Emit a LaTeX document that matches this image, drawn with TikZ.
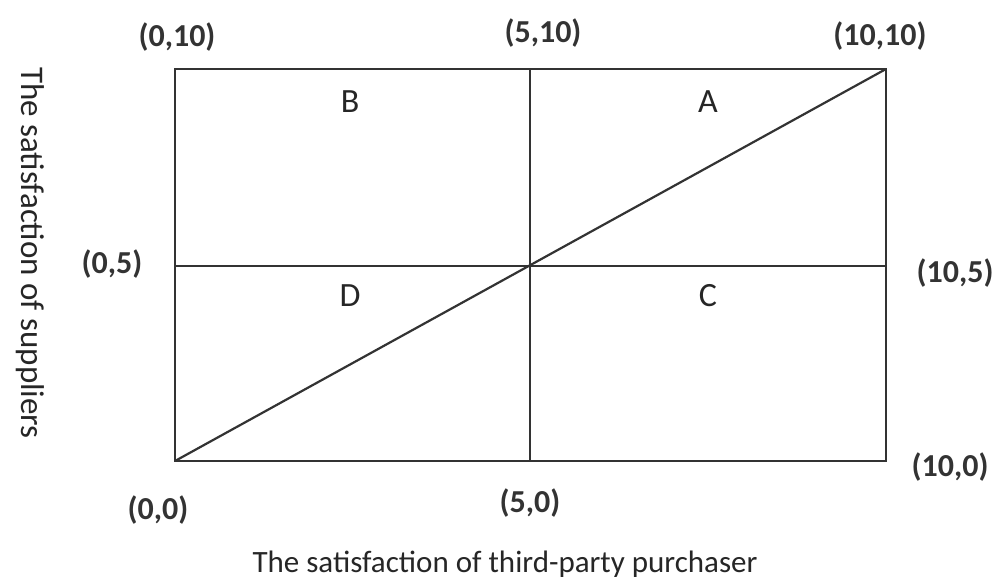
\documentclass[tikz,border=0pt]{standalone}
\usepackage{fontspec}
\setmainfont{Carlito}
\begin{document}
\begin{tikzpicture}[x=1pt,y=-1pt,
  frame/.style={line width=2.2pt,draw=black!80},
  coordlbl/.style={font=\fontsize{32}{34}\selectfont\bfseries,text=black!80,inner sep=0pt},
  quad/.style={font=\fontsize{34}{36}\selectfont,text=black!85,inner sep=0pt},
  axislbl/.style={font=\fontsize{31}{34}\selectfont,text=black!85,inner sep=0pt}]
\useasboundingbox (0,0) rectangle (1006,581);
\coordinate (p00) at (175,461);
\coordinate (p50) at (530,461);
\coordinate (p100) at (886,461);
\coordinate (p05) at (175,266);
\coordinate (p55) at (530,266);
\coordinate (p105) at (886,266);
\coordinate (p010) at (175,69);
\coordinate (p510) at (530,69);
\coordinate (p1010) at (886,69);
\draw[frame] (p00) rectangle (p1010);
\draw[frame] (p05) -- (p105);
\draw[frame] (p50) -- (p510);
\draw[frame] (p00) -- (p1010);
\node[quad] (B) at (350,102) {B};
\node[quad] (A) at (708,102) {A};
\node[quad] (D) at (350,296) {D};
\node[quad] (C) at (708,296) {C};
\node[coordlbl] (l010) at (177,37) {(0,10)};
\node[coordlbl] (l510) at (543,33) {(5,10)};
\node[coordlbl] (l1010) at (880,36) {(10,10)};
\node[coordlbl] (l05) at (112,264) {(0,5)};
\node[coordlbl] (l105) at (955,273) {(10,5)};
\node[coordlbl] (l100) at (950,467) {(10,0)};
\node[coordlbl] (l00) at (158,510) {(0,0)};
\node[coordlbl] (l50) at (530,503) {(5,0)};
\node[axislbl] (xl) at (505,564) {The satisfaction of third-party purchaser};
\node[axislbl,font=\fontsize{33}{36}\selectfont,rotate=-90] (yl) at (30,253) {The satisfaction of suppliers};
\end{tikzpicture}
\end{document}
